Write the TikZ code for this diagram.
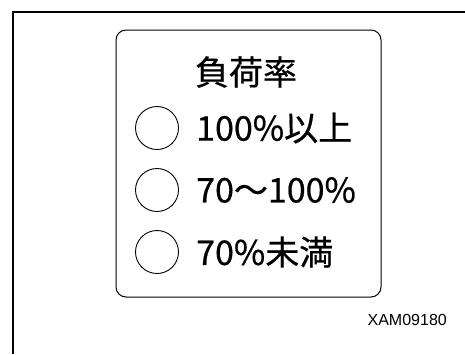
\documentclass[tikz,border=0pt]{standalone}
\usepackage{fontspec}
\newfontfamily\jpfont[FakeBold=0.6]{Noto Sans CJK JP}
\setsansfont{Liberation Sans}
\usetikzlibrary{positioning}

\begin{document}
\begin{tikzpicture}[
        x=1pt, y=-1pt,
        marco/.style={line width=1.4pt},
        painel/.style={draw, line width=1pt, rounded corners=10pt, minimum width=265pt, minimum height=267pt},
        lampada/.style={draw, circle, line width=0.9pt, minimum size=43pt, inner sep=0pt},
        rotulo/.style={font=\jpfont\fontsize{34}{36}\selectfont, inner sep=0pt, anchor=west}
    ]
    \useasboundingbox (0,0) rectangle (465,354);
    \draw[marco] (13,354) -- (13,12) -- (465,12);

    \node[painel] (painel) at (248.5,163.5) {};
    \node[font=\jpfont\fontsize{34}{36}\selectfont, inner sep=0pt] (titulo) at (246,72) {負荷率};

    \node[lampada] (l1) at (157,128) {};
    \node[lampada] (l2) at (157,190) {};
    \node[lampada] (l3) at (157,252) {};
    \node[rotulo] (t1) at (196,128) {100\%以上};
    \node[rotulo] (t2) at (196,190) {70～100\%};
    \node[rotulo] (t3) at (196,252) {70\%未満};

    \node[font=\sffamily\fontsize{16}{18}\selectfont, anchor=east, inner sep=0pt] (codigo) at (447,320) {XAM09180};
\end{tikzpicture}
\end{document}
